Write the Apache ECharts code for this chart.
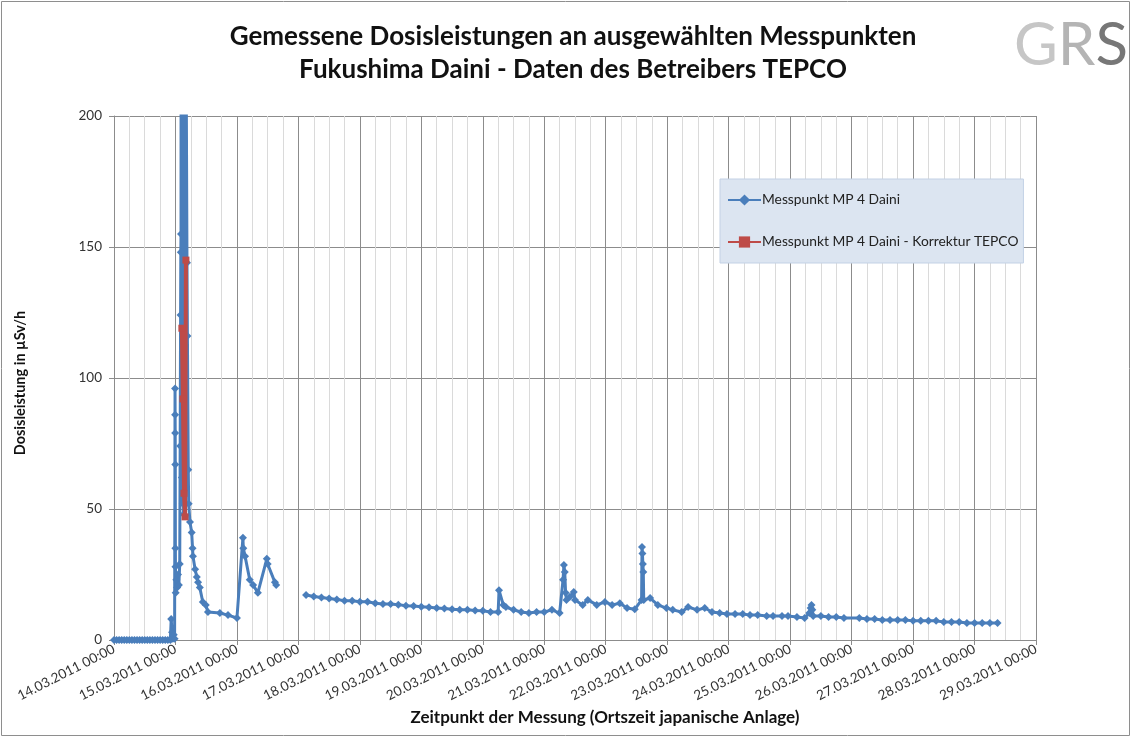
<!DOCTYPE html>
<html>
<head>
<meta charset="utf-8">
<script src="https://cdn.jsdelivr.net/npm/echarts@6/dist/echarts.min.js"></script>
<style>
html, body { margin: 0; padding: 0; background: #fff; }
#chart { width: 1132px; height: 738px; }
</style>
</head>
<body>
<div id="chart"></div>
<script>
// tick labels of the time axis (one per day)
var dayLabels = ['14.03.2011 00:00', '15.03.2011 00:00', '16.03.2011 00:00', '17.03.2011 00:00',
    '18.03.2011 00:00', '19.03.2011 00:00', '20.03.2011 00:00', '21.03.2011 00:00',
    '22.03.2011 00:00', '23.03.2011 00:00', '24.03.2011 00:00', '25.03.2011 00:00',
    '26.03.2011 00:00', '27.03.2011 00:00', '28.03.2011 00:00', '29.03.2011 00:00'];

// Messpunkt MP 4 Daini (µSv/h)
var mp4Times = [
    '14.03 00:00', '14.03 01:00', '14.03 02:00', '14.03 03:00', '14.03 04:00', '14.03 05:00',
    '14.03 06:00', '14.03 07:00', '14.03 08:00', '14.03 09:00', '14.03 10:00', '14.03 11:00',
    '14.03 12:00', '14.03 13:00', '14.03 14:00', '14.03 15:00', '14.03 16:00', '14.03 17:00',
    '14.03 18:00', '14.03 19:00', '14.03 20:00', '14.03 21:00', '14.03 22:00',
    '14.03 22:20', '14.03 22:40', '14.03 23:00', '14.03 23:20', '14.03 23:40', '14.03 23:50',
    '14.03 23:52', '14.03 23:54', '14.03 23:56', '14.03 23:58', '15.03 00:00', '15.03 00:05',
    '15.03 00:20', '15.03 00:40', '15.03 01:00', '15.03 01:20', '15.03 01:40', '15.03 01:50',
    '15.03 02:00', '15.03 02:05', '15.03 02:10', '15.03 02:20', '15.03 02:30', '15.03 02:40',
    '15.03 02:50', '15.03 03:00', '15.03 03:10', '15.03 03:20', '15.03 03:30', '15.03 03:40',
    '15.03 03:50', '15.03 04:30', '15.03 04:40', '15.03 05:00', '15.03 05:10',
    '15.03 05:40', '15.03 06:20', '15.03 06:40', '15.03 06:50', '15.03 07:40', '15.03 08:20',
    '15.03 08:50', '15.03 09:30', '15.03 10:40', '15.03 11:50', '15.03 12:40', '15.03 17:20',
    '15.03 20:30', '16.03 00:00', '16.03 02:20', '16.03 02:30', '16.03 03:10', '16.03 05:00',
    '16.03 06:20', '16.03 08:10', '16.03 11:40', '16.03 12:00', '16.03 14:50', '16.03 15:20',
    '16.03 21:00',
    '17.03 03:00', '17.03 06:00', '17.03 09:00', '17.03 12:00', '17.03 15:00', '17.03 18:00', '17.03 21:00',
    '18.03 00:00', '18.03 03:00', '18.03 06:00', '18.03 09:00', '18.03 12:00', '18.03 15:00', '18.03 18:00', '18.03 21:00',
    '19.03 00:00', '19.03 03:00', '19.03 06:00', '19.03 09:00', '19.03 12:00', '19.03 15:00', '19.03 18:00', '19.03 21:00',
    '20.03 00:00', '20.03 03:00', '20.03 06:00', '20.03 06:20', '20.03 08:00', '20.03 09:00', '20.03 12:00',
    '20.03 15:00', '20.03 18:00', '20.03 21:00',
    '21.03 00:00', '21.03 03:00', '21.03 06:00', '21.03 07:20', '21.03 07:40', '21.03 08:00', '21.03 08:20',
    '21.03 08:40', '21.03 10:00', '21.03 11:30', '21.03 12:00', '21.03 15:00', '21.03 17:00', '21.03 20:30',
    '21.03 23:40',
    '22.03 02:30', '22.03 05:30', '22.03 08:20', '22.03 11:20', '22.03 14:00', '22.03 14:10', '22.03 14:20',
    '22.03 14:30', '22.03 14:40', '22.03 14:50', '22.03 17:20', '22.03 20:20', '22.03 23:40',
    '23.03 02:10', '23.03 05:40', '23.03 08:10', '23.03 11:40', '23.03 14:40', '23.03 17:30', '23.03 20:30',
    '23.03 23:20',
    '24.03 02:30', '24.03 05:30', '24.03 08:20', '24.03 11:20', '24.03 14:50', '24.03 17:20', '24.03 20:50',
    '24.03 23:10',
    '25.03 02:40', '25.03 05:40', '25.03 07:30', '25.03 08:00', '25.03 08:20', '25.03 08:40', '25.03 09:00',
    '25.03 12:00', '25.03 15:00', '25.03 18:00', '25.03 21:00',
    '26.03 03:00', '26.03 06:00', '26.03 09:00', '26.03 12:00', '26.03 15:00', '26.03 18:00', '26.03 21:00',
    '27.03 00:00', '27.03 03:00', '27.03 06:00', '27.03 09:00', '27.03 12:00', '27.03 15:00', '27.03 18:00',
    '27.03 21:00',
    '28.03 00:00', '28.03 03:00', '28.03 06:00', '28.03 09:00'
];
var mp4Values = [
    0, 0, 0, 0, 0, 0,
    0, 0, 0, 0, 0, 0,
    0, 0, 0, 0, 0, 0,
    0, 0, 0, 0, 0,
    8, 3, 0.5, 2, 0.5, 96,
    86, 79, 67, 35, 28, 18,
    23, 20, 25, 21, 29, 74,
    124, 148, 155, 800, 62, 1000,
    52, 950, 48, 800, 58, 600,
    300, 144, 116, 65, 52,
    45, 41, 35, 32, 27, 24,
    22, 20, 14.5, 13.4, 10.7, 10.3,
    9.5, 8.4, 39, 35, 32, 23,
    21, 18, 31, 29, 22, 21,
    null,
    17.2, 16.6, 16.2, 15.8, 15.5, 15.0, 15.0,
    14.6, 14.6, 14.0, 13.7, 13.7, 13.5, 13.1, 13.0,
    12.7, 12.5, 12.2, 12.0, 11.7, 11.5, 11.5, 11.3,
    11.2, 10.7, 10.7, 19, 13.4, 12.6, 11.5,
    10.7, 10.3, 10.7,
    10.7, 11.5, 10.3, 23, 28.6, 26, 18,
    15.3, 16.5, 18.3, 15.3, 13.4, 15.3, 13.4,
    14.5,
    13.4, 14.0, 12.2, 11.7, 15.3, 35.5, 33,
    29, 26, 15.3, 16, 13.4, 12.2,
    11.5, 10.7, 12.6, 11.5, 12.2, 10.7, 10.3,
    9.9,
    9.9, 9.9, 9.5, 9.5, 9.2, 9.2, 9.2,
    9.2,
    8.8, 8.4, 10.3, 12.2, 13.4, 11.5, 9.2,
    9.2, 8.8, 8.8, 8.4,
    8.4, 8.0, 8.0, 7.6, 7.6, 7.6, 7.6,
    7.3, 7.3, 7.3, 7.3, 6.9, 6.9, 6.9,
    6.5,
    6.5, 6.5, 6.5, 6.5
];

// Messpunkt MP 4 Daini - Korrektur TEPCO (µSv/h)
var korrTimes = ['15.03 02:30', '15.03 02:55', '15.03 03:20', '15.03 03:45', '15.03 04:05'];
var korrValues = [119, 92, 56, 47, 145];

// 'DD.MM HH:MM' -> days since 14.03.2011 00:00
function toDay(s) {
    var d = parseInt(s.substr(0, 2), 10);
    var h = parseInt(s.substr(6, 2), 10);
    var m = parseInt(s.substr(9, 2), 10);
    return (d - 14) + h / 24 + m / 1440;
}

function pairs(times, values) {
    return times.map(function (t, i) { return [toDay(t), values[i]]; });
}

var font = 'Lato, "Open Sans", sans-serif';
var chart = echarts.init(document.getElementById('chart'));

var option = {
    animation: false,
    backgroundColor: '#fff',
    grid: { left: 114, top: 116, right: 96, bottom: 98 },
    legend: {
        data: ['Messpunkt MP 4 Daini', 'Messpunkt MP 4 Daini - Korrektur TEPCO'],
        orient: 'vertical',
        left: 720,
        top: 179,
        itemWidth: 33,
        itemHeight: 14,
        itemGap: 28,
        padding: [14, 5, 14, 7],
        backgroundColor: '#dce5f1',
        borderColor: '#c3d1e5',
        borderWidth: 1,
        textStyle: { fontFamily: font, fontSize: 13.8, color: '#222', padding: [0, 0, 0, -4] }
    },
    xAxis: {
        type: 'value',
        min: 0,
        max: 15,
        interval: 1,
        axisLine: { lineStyle: { color: '#8c8c8c' } },
        axisTick: { show: true, length: 5, lineStyle: { color: '#8c8c8c' } },
        axisLabel: {
            rotate: 27,
            margin: 8,
            fontFamily: font,
            fontSize: 13.5,
            color: '#333',
            formatter: function (v) { return dayLabels[Math.round(v)] || ''; }
        },
        splitLine: { show: true, lineStyle: { color: '#8c8c8c' } },
        minorTick: { show: false, splitNumber: 4 },
        minorSplitLine: { show: true, lineStyle: { color: '#dadada' } }
    },
    yAxis: {
        type: 'value',
        min: 0,
        max: 200,
        interval: 50,
        axisLine: { show: true, lineStyle: { color: '#8c8c8c' } },
        axisTick: { show: true, length: 5, lineStyle: { color: '#8c8c8c' } },
        axisLabel: { fontFamily: font, fontSize: 13.5, color: '#333', margin: 12 },
        splitLine: { lineStyle: { color: '#8c8c8c' } }
    },
    series: [
        {
            name: 'Messpunkt MP 4 Daini',
            type: 'line',
            data: pairs(mp4Times, mp4Values),
            connectNulls: false,
            symbol: 'diamond',
            symbolSize: 8,
            color: '#4a7ebb',
            lineStyle: { width: 3, color: '#4a7ebb' },
            itemStyle: { color: '#4a7ebb' }
        },
        {
            name: 'Messpunkt MP 4 Daini - Korrektur TEPCO',
            type: 'line',
            z: 5,
            data: pairs(korrTimes, korrValues),
            symbol: 'rect',
            symbolSize: 7,
            color: '#be4b48',
            lineStyle: { width: 4, color: '#be4b48' },
            itemStyle: { color: '#be4b48' }
        }
    ],
    graphic: [
        {
            type: 'rect',
            shape: { x: 1.5, y: 1.5, width: 1128, height: 734 },
            style: { fill: 'none', stroke: '#8e8e8e', lineWidth: 1 },
            silent: true
        },
        {
            type: 'text', x: 573, y: 37,
            style: {
                text: 'Gemessene Dosisleistungen an ausgewählten Messpunkten',
                font: 'bold 26px ' + font, fill: '#111', textAlign: 'center', textVerticalAlign: 'middle'
            }
        },
        {
            type: 'text', x: 573, y: 70,
            style: {
                text: 'Fukushima Daini - Daten des Betreibers TEPCO',
                font: 'bold 26px ' + font, fill: '#111', textAlign: 'center', textVerticalAlign: 'middle'
            }
        },
        {
            type: 'text', x: 20, y: 383, rotation: Math.PI / 2,
            style: {
                text: 'Dosisleistung in µSv/h',
                font: 'bold 14.5px ' + font, fill: '#111', textAlign: 'center', textVerticalAlign: 'middle'
            }
        },
        {
            type: 'text', x: 605, y: 718,
            style: {
                text: 'Zeitpunkt der Messung (Ortszeit japanische Anlage)',
                font: 'bold 17px ' + font, fill: '#111', textAlign: 'center', textVerticalAlign: 'middle'
            }
        },
        {
            type: 'text', x: 1071, y: 46,
            style: {
                text: '{a|G}{c|R}{b|S}',
                textAlign: 'center', textVerticalAlign: 'middle',
                rich: {
                    a: { font: 'normal 60px ' + font, fill: '#c6c6c6' },
                    c: { font: 'normal 60px ' + font, fill: '#b4b4b4' },
                    b: { font: 'normal 60px ' + font, fill: '#777777' }
                }
            }
        }
    ]
};

chart.setOption(option);
</script>
</body>
</html>
